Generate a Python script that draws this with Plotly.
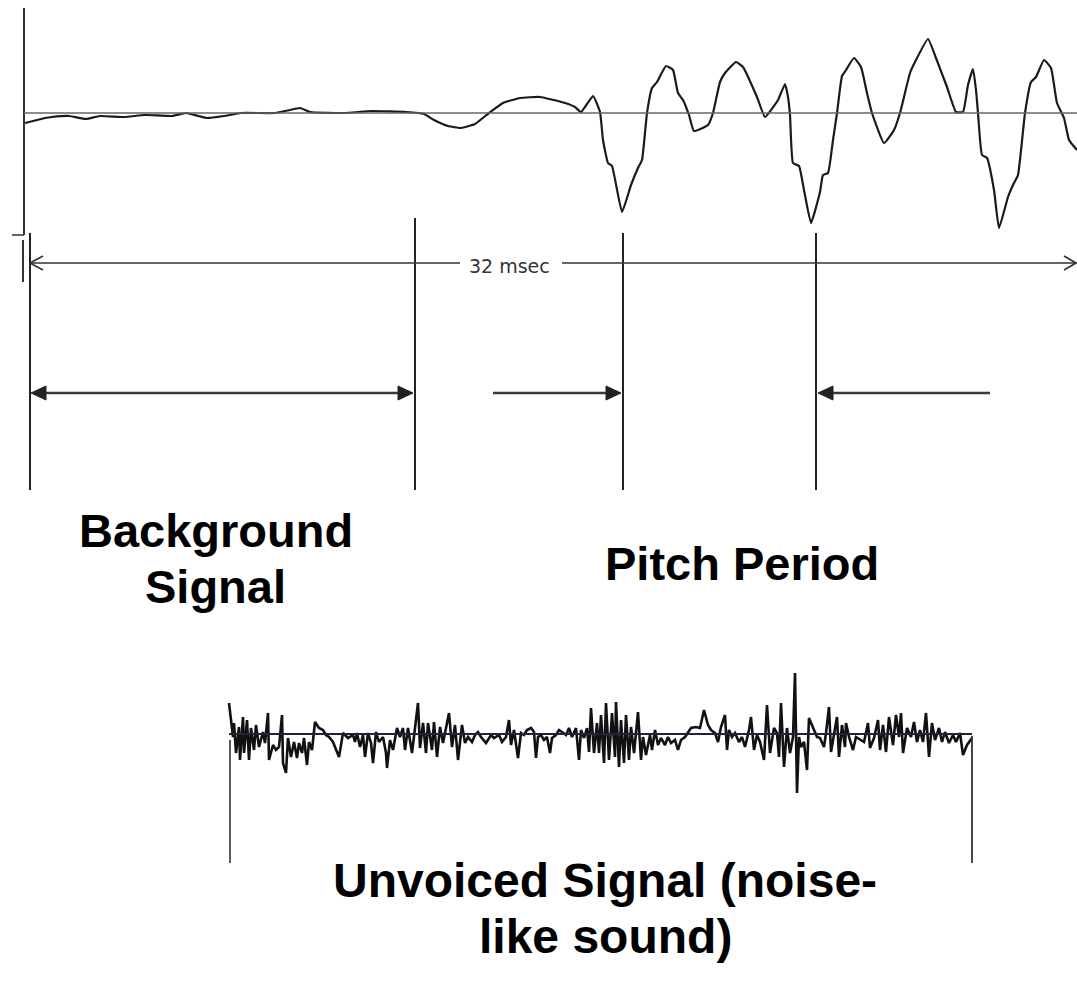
import plotly.graph_objects as go

W, H = 1077, 982

# ---------------- data ----------------
# Voiced speech waveform (time position, amplitude relative to baseline)
voiced_t = [25, 45, 52, 69, 86, 100, 124, 145, 172, 186, 207, 224, 241, 275, 290, 300, 310,
            344, 372, 406, 424, 434, 448, 461, 475, 489, 503, 520, 540, 565, 575, 581, 593,
            600, 603, 608, 612, 622, 631, 638, 642, 647, 652, 657, 666, 673, 678, 683, 689,
            694, 708, 713, 720, 725, 736, 743, 757, 765, 778, 785, 788, 790, 793, 799, 804,
            811, 820, 823, 828, 833, 837, 842, 846, 854, 861, 867, 872, 884, 894, 900, 910,
            915, 928, 936, 947, 956, 963, 968, 973, 976, 978, 982, 987, 994, 999, 1008, 1013,
            1018, 1025, 1031, 1036, 1044, 1051, 1057, 1064, 1069, 1077]
voiced_amp = [-10, -5, -4, -3, -6, -3, -4, -2, -3, 0, -5, -3, 0, 0, 3, 5, 1,
              0, 2, 1, -1, -7, -13, -15, -11, 0, 10, 15, 16, 10, 6, 1, 17,
              1, -27, -50, -53, -99, -72, -55, -47, 0, 25, 31, 47, 43, 20, 13, -2,
              -18, -12, 0, 31, 40, 51, 46, 16, -4, 13, 29, 16, -2, -50, -53, -77,
              -110, -79, -62, -60, -27, 0, 37, 43, 55, 46, 20, 0, -30, -17, 0, 40,
              51, 74, 55, 26, 1, 1, 28, 44, 23, 0, -42, -45, -77, -115, -84, -72,
              -62, 0, 31, 36, 53, 45, 10, -5, -27, -37]

# Unvoiced (noise-like) waveform
unvoiced_t = [229, 233, 234, 236, 239, 240, 243, 244, 247, 249, 251, 254, 256, 259, 263, 265,
              268, 269, 273, 276, 279, 282, 283, 286, 288, 291, 294, 297, 299, 302, 304, 307,
              309, 312, 315, 319, 323, 326, 329, 333, 339, 343, 348, 353, 355, 357, 360, 363,
              365, 368, 371, 373, 376, 379, 383, 386, 387, 390, 393, 397, 400, 403, 405, 408,
              412, 415, 418, 420, 423, 426, 428, 432, 434, 437, 440, 443, 447, 449, 452, 455,
              458, 462, 465, 468, 472, 475, 478, 481, 486, 491, 494, 499, 502, 506, 509, 511,
              514, 518, 521, 524, 527, 531, 534, 536, 538, 541, 544, 547, 550, 552, 556, 559,
              562, 566, 569, 572, 576, 579, 581, 584, 587, 589, 591, 594, 597, 599, 601, 604,
              606, 609, 612, 615, 616, 619, 621, 624, 626, 629, 631, 634, 636, 638, 641, 643,
              646, 650, 652, 655, 658, 661, 665, 668, 671, 675, 678, 681, 685, 688, 691, 696,
              700, 704, 708, 711, 715, 718, 721, 725, 727, 729, 732, 735, 739, 742, 745, 749,
              751, 754, 757, 760, 764, 767, 770, 774, 777, 779, 781, 784, 787, 790, 793, 795,
              797, 799, 801, 804, 807, 809, 813, 817, 820, 824, 826, 829, 831, 835, 837, 839,
              842, 845, 846, 849, 853, 856, 861, 864, 868, 870, 874, 878, 880, 883, 886, 889,
              893, 896, 899, 901, 903, 907, 911, 914, 917, 920, 923, 926, 929, 932, 935, 939,
              942, 945, 949, 953, 956, 960, 963, 967, 972]
unvoiced_amp = [31, -3, 11, -19, 7, -26, 17, -19, 14, -26, 6, -16, 9, -13, 2, -9,
                21, -26, -11, -16, -13, 19, -29, -39, -4, -23, -8, -24, -9, -19, -4, -31,
                -8, -16, 12, 6, 4, -1, -3, -8, -23, 1, -4, -1, -8, 1, -13, -1,
                -23, 1, -9, -29, 2, -8, -3, -19, -34, -6, -16, 6, -3, 6, -16, 6,
                -19, 4, 31, -14, 11, -19, 11, -16, 12, -23, 7, -9, 9, 21, -13, 9,
                -26, 9, -9, -3, -8, -1, 2, -3, -9, -1, -4, -1, -8, -3, 14, -11,
                4, -24, 1, -1, 4, 6, 2, -24, -3, -1, -6, -3, -19, -4, -1, 4,
                2, -1, 6, -3, 6, -26, 4, -4, 6, -18, 26, -19, 11, -19, 19, -29,
                31, -26, 21, -23, 32, -33, 14, -29, 19, -26, 7, -19, 1, 22, -26, -3,
                -21, -1, -16, 4, -11, -4, -11, -3, -9, -6, -16, -6, -3, 2, 6, 7,
                6, 24, 9, 4, 1, -8, 7, 19, -16, 4, -3, 1, -8, -3, -13, 4,
                17, -16, -1, -8, -26, 29, -19, 6, 1, -23, 31, -33, 6, -19, -3, 61,
                -59, -3, -13, -8, -36, 16, 6, -3, -4, -13, 1, 27, -18, 6, 17, -23,
                9, -13, 11, -3, -16, -3, -6, -8, 11, -14, -4, 14, -16, 9, -18, 17,
                -11, 19, -3, 21, -19, 6, -3, 12, -8, 4, -8, 21, -23, 11, -6, 6,
                -8, 2, -9, -1, -8, 1, -21, -11, -4]

# Labels
msec_label = "32 msec"
label_background = ["Background", "Signal"]
label_pitch = "Pitch Period"
label_unvoiced = ["Unvoiced Signal (noise-", "like sound)"]

# ---------------- figure ----------------
INK = "#1a1a1a"
fig = go.Figure()

# top waveform subplot: pixel band 0..240, baseline at 113
fig.add_trace(go.Scatter(x=voiced_t, y=voiced_amp, mode="lines",
                         line=dict(color=INK, width=2.2, shape="spline", smoothing=0.4),
                         xaxis="x", yaxis="y", hoverinfo="skip"))
# noise subplot: pixel band 660..800, baseline at 734
fig.add_trace(go.Scatter(x=unvoiced_t, y=unvoiced_amp, mode="lines",
                         line=dict(color="#111111", width=2.6),
                         xaxis="x2", yaxis="y2", hoverinfo="skip"))

def band(p0, p1):
    return [1 - p1 / H, 1 - p0 / H]

ax_hidden = dict(visible=False, showgrid=False, zeroline=False, fixedrange=True)
fig.update_layout(
    width=W, height=H,
    margin=dict(l=0, r=0, t=0, b=0),
    paper_bgcolor="white", plot_bgcolor="rgba(0,0,0,0)",
    showlegend=False,
    xaxis=dict(ax_hidden, range=[0, W], domain=[0, 1]),
    yaxis=dict(ax_hidden, range=[113 - 240, 113], domain=band(0, 240)),
    xaxis2=dict(ax_hidden, range=[0, W], domain=[0, 1], anchor="y2"),
    yaxis2=dict(ax_hidden, range=[734 - 800, 734 - 660], domain=band(660, 800), anchor="x2"),
    xaxis3=dict(ax_hidden, range=[0, W], domain=[0, 1], anchor="y3"),
    yaxis3=dict(ax_hidden, range=[H, 0], domain=[0, 1], anchor="x3"),
)

shapes = []
def seg(x0, y0, x1, y1, color=INK, width=2):
    shapes.append(dict(type="line", xref="x3", yref="y3", x0=x0, y0=y0, x1=x1, y1=y1,
                       line=dict(color=color, width=width), layer="below"))

def tri(xtip, y, direction, length=15, half=7, color="#222222"):
    xb = xtip - direction * length
    shapes.append(dict(type="path", xref="x3", yref="y3",
                       path=f"M {xtip},{y} L {xb},{y - half} L {xb},{y + half} Z",
                       fillcolor=color, line=dict(color=color, width=1)))

# top waveform axes
seg(24, 8, 24, 235, "#333333", 2)
seg(24, 113, W, 113, "#666666", 1.6)
seg(12, 235, 24, 235, "#333333", 1.5)
seg(23, 240, 23, 282, "#333333", 2)

# vertical markers
seg(30, 233, 30, 490, "#222222", 2)
seg(415, 218, 415, 490, "#222222", 2)
seg(623, 233, 623, 490, "#222222", 2)
seg(816, 233, 816, 490, "#222222", 2)

# 32 msec dimension line with open chevrons
seg(30, 263, 460, 263, "#333333", 1.6)
seg(562, 263, W, 263, "#333333", 1.6)
seg(30, 263, 43, 256, "#333333", 1.6)
seg(30, 263, 43, 270, "#333333", 1.6)
seg(1076, 263, 1064, 256, "#333333", 1.6)
seg(1076, 263, 1064, 270, "#333333", 1.6)

# filled arrows at y=393
seg(40, 393, 403, 393, "#3a3a3a", 2.6)
tri(31, 393, -1)
tri(413, 393, 1)
seg(493, 393, 610, 393, "#3a3a3a", 2.6)
tri(621, 393, 1)
seg(828, 393, 990, 393, "#3a3a3a", 2.6)
tri(818, 393, -1)

# noise baseline and end markers
seg(229, 734, 972, 734, "#2a1f36", 1.8)
seg(230, 740, 230, 863, "#333333", 1.6)
seg(972, 736, 972, 863, "#333333", 1.8)

fig.update_layout(shapes=shapes)

FONT = "Liberation Sans, Arial, sans-serif"
BIG = dict(family=FONT, size=47, color="black")
BIG2 = dict(family=FONT, size=48, color="black")
ann = []
def text(x, y, s, font):
    ann.append(dict(x=x, y=y, xref="x3", yref="y3", text=s, showarrow=False,
                    xanchor="center", yanchor="middle", font=font))

text(509, 266, msec_label, dict(family="DejaVu Sans, sans-serif", size=19, color="#333333"))
text(216, 530, f"<b>{label_background[0]}</b>", BIG)
text(215, 586, f"<b>{label_background[1]}</b>", BIG)
text(742, 563, f"<b>{label_pitch}</b>", BIG)
text(605, 880, f"<b>{label_unvoiced[0]}</b>", BIG2)
text(605, 936, f"<b>{label_unvoiced[1]}</b>", BIG2)
fig.update_layout(annotations=ann)

fig.write_html("out.html", config={"displayModeBar": False, "staticPlot": True},
               post_script="document.body.style.margin='0';")
